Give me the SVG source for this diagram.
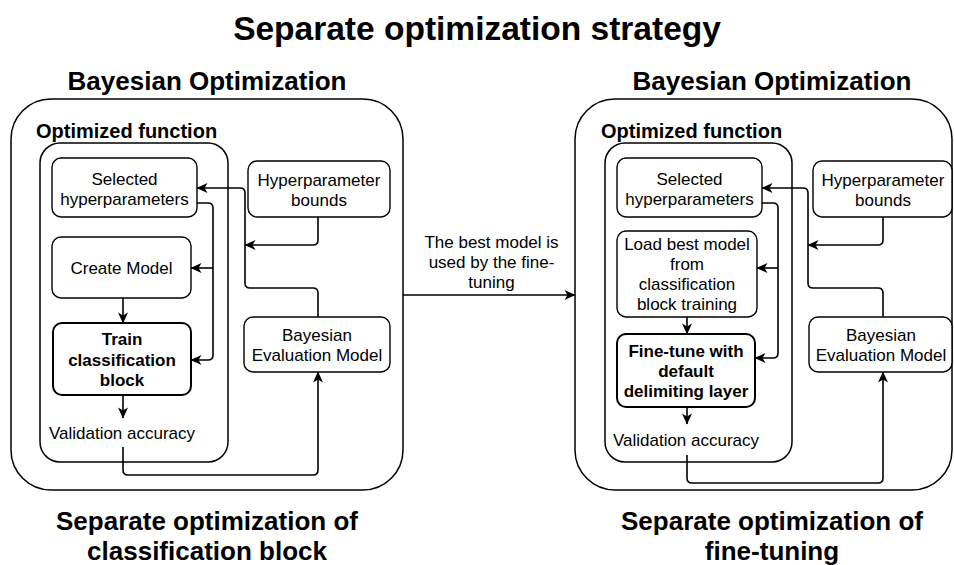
<svg xmlns="http://www.w3.org/2000/svg" width="954" height="565" viewBox="0 0 954 565">
  <defs>
    <marker id="arrow" viewBox="0 0 12 12" refX="11" refY="6" markerWidth="12" markerHeight="12" markerUnits="userSpaceOnUse" orient="auto">
      <path d="M0.5,1 L11.5,6 L0.5,11 L3.5,6 Z" fill="#000"/>
    </marker>
    <style>
      text { font-family: "Liberation Sans", Arial, Helvetica, sans-serif; fill: #000; }
      .title { font-size: 33.5px; font-weight: bold; text-anchor: middle; }
      .bo { font-size: 26px; font-weight: bold; text-anchor: middle; }
      .sub { font-size: 26px; font-weight: bold; text-anchor: middle; }
      .fn { font-size: 20px; font-weight: bold; }
      .lbl { font-size: 17px; text-anchor: middle; }
      .lblb { font-size: 17px; font-weight: bold; text-anchor: middle; }
      .frame { fill: #fff; stroke: #000; stroke-width: 1.5; }
      .box { fill: #fff; stroke: #000; stroke-width: 1.4; }
      .boxb { fill: #fff; stroke: #000; stroke-width: 2; }
      .edge { fill: none; stroke: #000; stroke-width: 1.6; }
      .arr { marker-end: url(#arrow); }
    </style>
  </defs>
  <rect width="954" height="565" fill="#fff"/>

  <text class="title" x="477" y="40">Separate optimization strategy</text>

  <!-- Left: classification block optimization -->
  <g id="bo-left">
    <text class="bo" x="207" y="90">Bayesian Optimization</text>
    <rect class="frame" x="11" y="99" width="392" height="391" rx="40"/>
  </g>
  <g id="fn-left">
    <text class="fn" x="36" y="138">Optimized function</text>
    <rect class="frame" x="40" y="143" width="188" height="319" rx="20"/>
  </g>
  <g id="sel-left">
    <rect class="box" x="52" y="158" width="145" height="59" rx="9"/>
    <text class="lbl" x="124.5" y="185">Selected</text>
    <text class="lbl" x="124.5" y="205">hyperparameters</text>
  </g>
  <g id="create-left">
    <rect class="box" x="52" y="237" width="139" height="61" rx="9"/>
    <text class="lbl" x="121.5" y="274">Create Model</text>
  </g>
  <g id="train-left">
    <rect class="boxb" x="53" y="323" width="138" height="72" rx="9"/>
    <text class="lblb" x="122" y="345">Train</text>
    <text class="lblb" x="122" y="366">classification</text>
    <text class="lblb" x="122" y="386">block</text>
  </g>
  <g id="val-left">
    <text class="lbl" x="122" y="439">Validation accuracy</text>
  </g>
  <g id="bounds-left">
    <rect class="box" x="248" y="161" width="142" height="56" rx="9"/>
    <text class="lbl" x="319" y="186">Hyperparameter</text>
    <text class="lbl" x="319" y="206">bounds</text>
  </g>
  <g id="eval-left">
    <rect class="box" x="244" y="317" width="146" height="55" rx="9"/>
    <text class="lbl" x="317" y="341">Bayesian</text>
    <text class="lbl" x="317" y="361">Evaluation Model</text>
  </g>
  <text class="sub" x="207" y="530">Separate optimization of</text>
  <text class="sub" x="207" y="560">classification block</text>

  <!-- Right: fine-tuning optimization -->
  <g id="bo-right">
    <text class="bo" x="772" y="90">Bayesian Optimization</text>
    <rect class="frame" x="575" y="99" width="377" height="391" rx="40"/>
  </g>
  <g id="fn-right">
    <text class="fn" x="601" y="138">Optimized function</text>
    <rect class="frame" x="605" y="143" width="187" height="319" rx="20"/>
  </g>
  <g id="sel-right">
    <rect class="box" x="617" y="158" width="145" height="59" rx="9"/>
    <text class="lbl" x="689.5" y="185">Selected</text>
    <text class="lbl" x="689.5" y="205">hyperparameters</text>
  </g>
  <g id="load-right">
    <rect class="box" x="617" y="231" width="140" height="86" rx="9"/>
    <text class="lbl" x="687" y="250">Load best model</text>
    <text class="lbl" x="687" y="270">from</text>
    <text class="lbl" x="687" y="290">classification</text>
    <text class="lbl" x="687" y="310">block training</text>
  </g>
  <g id="finetune-right">
    <rect class="boxb" x="617" y="334" width="138" height="73" rx="9"/>
    <text class="lblb" x="686" y="357">Fine-tune with</text>
    <text class="lblb" x="686" y="377">default</text>
    <text class="lblb" x="686" y="397">delimiting layer</text>
  </g>
  <g id="val-right">
    <text class="lbl" x="686" y="446">Validation accuracy</text>
  </g>
  <g id="bounds-right">
    <rect class="box" x="813" y="161" width="139" height="56" rx="9"/>
    <text class="lbl" x="883" y="186">Hyperparameter</text>
    <text class="lbl" x="883" y="206">bounds</text>
  </g>
  <g id="eval-right">
    <rect class="box" x="809" y="317" width="143" height="55" rx="9"/>
    <text class="lbl" x="881" y="341">Bayesian</text>
    <text class="lbl" x="881" y="361">Evaluation Model</text>
  </g>
  <text class="sub" x="772" y="530">Separate optimization of</text>
  <text class="sub" x="772" y="560">fine-tuning</text>

  <!-- Connectors -->
  <g id="connectors">
    <!-- left -->
    <path class="edge arr" d="M197 203 H208 Q213 203 213 208 V355 Q213 360 208 360 H191"/>
    <path class="edge arr" d="M213 268 H191"/>
    <path class="edge arr" d="M318 317 V293 Q318 288 313 288 H250 Q245 288 245 283 V193 Q245 188 240 188 H197"/>
    <path class="edge arr" d="M318 217 V240 Q318 245 313 245 H245"/>
    <path class="edge arr" d="M123 298 V323"/>
    <path class="edge arr" d="M123 395 V418"/>
    <path class="edge arr" d="M123 447 V470 Q123 475 128 475 H313 Q318 475 318 470 V372"/>

    <!-- between the two optimizations -->
    <path class="edge arr" d="M403 295 H575"/>
    <text class="lbl" x="491.5" y="248">The best model is</text>
    <text class="lbl" x="491.5" y="268">used by the fine-</text>
    <text class="lbl" x="491.5" y="288">tuning</text>

    <!-- right -->
    <path class="edge arr" d="M762 203 H773 Q778 203 778 208 V353 Q778 358 773 358 H755"/>
    <path class="edge arr" d="M778 268 H757"/>
    <path class="edge arr" d="M883 317 V293 Q883 288 878 288 H813 Q808 288 808 283 V193 Q808 188 803 188 H762"/>
    <path class="edge arr" d="M883 217 V240 Q883 245 878 245 H808"/>
    <path class="edge arr" d="M687 317 V334"/>
    <path class="edge arr" d="M687 407 V424"/>
    <path class="edge arr" d="M687 455 V478 Q687 483 692 483 H878 Q883 483 883 478 V372"/>
  </g>
</svg>
